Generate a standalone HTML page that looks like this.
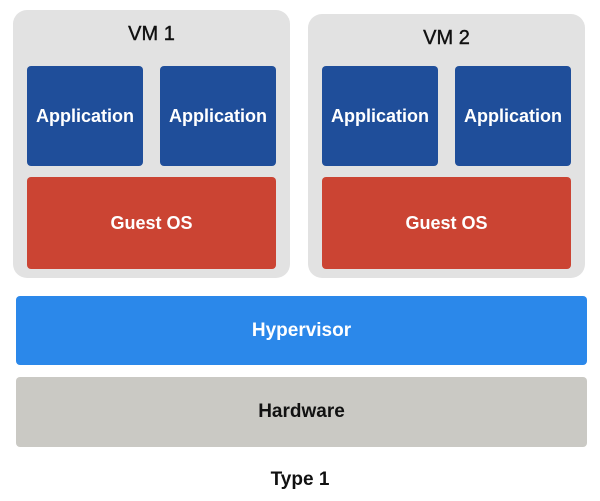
<!DOCTYPE html>
<html><head><style>
body{margin:0;width:600px;height:501px;background:#fff;font-family:"Liberation Sans",sans-serif;position:relative;overflow:hidden}
div.b{position:absolute;display:flex;align-items:center;justify-content:center;font-weight:bold;box-sizing:border-box}
.vm{background:#e2e2e2;border-radius:14px;align-items:flex-start!important;padding-top:13px;font-size:20px;color:#111;font-weight:normal!important;-webkit-text-stroke:0.4px #111}
.app{background:#1f4e9a;color:#fff;border-radius:4px;font-size:18px}
.os{background:#cb4433;color:#fff;border-radius:4px;font-size:18px}
</style></head><body>
<div class="b vm" style="left:13px;top:10px;width:277px;height:268px">VM 1</div>
<div class="b vm" style="left:308px;top:14px;width:277px;height:264px">VM 2</div>
<div class="b app" style="left:27px;top:66px;width:116px;height:100px">Application</div>
<div class="b app" style="left:160px;top:66px;width:116px;height:100px">Application</div>
<div class="b app" style="left:322px;top:66px;width:116px;height:100px">Application</div>
<div class="b app" style="left:455px;top:66px;width:116px;height:100px">Application</div>
<div class="b os" style="left:27px;top:177px;width:249px;height:92px">Guest OS</div>
<div class="b os" style="left:322px;top:177px;width:249px;height:92px">Guest OS</div>
<div class="b" style="left:16px;top:296px;width:571px;height:69px;background:#2b88ea;color:#fff;border-radius:4px;font-size:19px">Hypervisor</div>
<div class="b" style="left:16px;top:377px;width:571px;height:70px;background:#cac9c4;color:#111;border-radius:4px;font-size:19px">Hardware</div>
<div class="b" style="left:0;top:466px;width:600px;height:28px;color:#111;font-size:19px">Type 1</div>
</body></html>
